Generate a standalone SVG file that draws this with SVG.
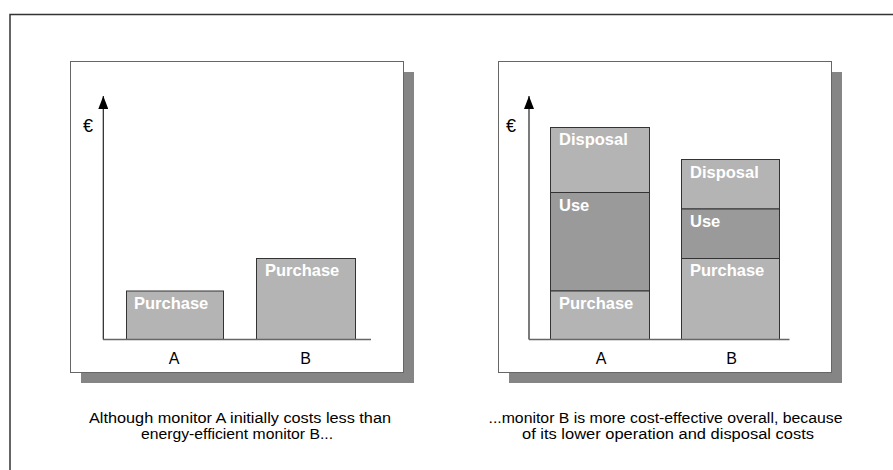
<svg xmlns="http://www.w3.org/2000/svg" width="893" height="470" viewBox="0 0 893 470">
  <defs>
    <marker id="arrow" markerWidth="13" markerHeight="10" refX="13" refY="5" orient="auto" markerUnits="userSpaceOnUse" viewBox="0 0 13 10">
      <path d="M0,0 L13,5 L0,10 Z" fill="#000"/>
    </marker>
  </defs>
  <style>
    .frame { fill: none; stroke: #333; stroke-width: 1.5; }
    .panel { fill: #fff; stroke: #666; stroke-width: 1; }
    .shadow { fill: #858585; }
    .bar { fill: #b4b4b4; stroke: #333; stroke-width: 1; }
    .use { fill: #9a9a9a; stroke: #333; stroke-width: 1; }
    .axis { fill: none; stroke: #222; stroke-width: 1.2; }
    .xaxis { fill: none; stroke: #666; stroke-width: 1.5; }
    .lbl { font-family: "Liberation Sans", Arial, sans-serif; font-weight: bold; font-size: 16.5px; fill: #fff; }
    .cat { font-family: "Liberation Sans", Arial, sans-serif; font-size: 16px; fill: #000; text-anchor: middle; }
    .eur { font-family: "Liberation Sans", Arial, sans-serif; font-size: 18px; fill: #000; }
    .cap { font-family: "Liberation Sans", Arial, sans-serif; font-size: 14px; fill: #000; text-anchor: middle; }
  </style>
  <rect x="0" y="0" width="893" height="470" fill="#fff"/>
  <path class="frame" d="M10,470 L10,14.5 L893,14.5"/>

  <g id="panel-left">
    <rect class="shadow" x="81" y="72" width="333" height="311"/>
    <rect class="panel" x="70.5" y="61.5" width="333" height="311"/>
    <text class="eur" x="83" y="132">€</text>
    <text class="cat" x="174" y="363.5">A</text>
    <text class="cat" x="305.5" y="363.5">B</text>
  </g>
  <g id="panel-right">
    <rect class="shadow" x="509" y="72" width="333" height="311"/>
    <rect class="panel" x="498.5" y="61.5" width="333" height="311"/>
    <text class="eur" x="506" y="132">€</text>
    <text class="cat" x="601" y="363.5">A</text>
    <text class="cat" x="731.5" y="363.5">B</text>
  </g>

  <g id="bar-A-left">
    <rect class="bar" x="126.5" y="291" width="97" height="48.5"/>
    <text class="lbl" x="134" y="308.5">Purchase</text>
  </g>
  <g id="bar-B-left">
    <rect class="bar" x="256.5" y="258.5" width="99" height="81"/>
    <text class="lbl" x="265" y="276">Purchase</text>
  </g>

  <g id="bar-A-right">
    <rect class="bar" x="550.5" y="127.5" width="99" height="65"/>
    <rect class="use" x="550.5" y="192.5" width="99" height="98.5"/>
    <rect class="bar" x="550.5" y="291" width="99" height="48.5"/>
    <text class="lbl" x="559" y="145">Disposal</text>
    <text class="lbl" x="559" y="210.5">Use</text>
    <text class="lbl" x="559" y="308.5">Purchase</text>
  </g>
  <g id="bar-B-right">
    <rect class="bar" x="681.5" y="159.5" width="98" height="49.5"/>
    <rect class="use" x="681.5" y="209" width="98" height="49.5"/>
    <rect class="bar" x="681.5" y="258.5" width="98" height="81"/>
    <text class="lbl" x="690" y="177.5">Disposal</text>
    <text class="lbl" x="690" y="226.5">Use</text>
    <text class="lbl" x="690" y="276">Purchase</text>
  </g>

  <g id="connectors">
    <path class="axis" d="M103.3,339.5 L103.3,96" marker-end="url(#arrow)"/>
    <path class="xaxis" d="M103,339.5 L371,339.5"/>
    <path class="axis" d="M529,339.5 L529,96" marker-end="url(#arrow)"/>
    <path class="xaxis" d="M529,339.5 L789.5,339.5"/>
  </g>

  <g id="caption-left">
    <text class="cap" x="240" y="423" textLength="302" lengthAdjust="spacingAndGlyphs">Although monitor A initially costs less than</text>
    <text class="cap" x="237" y="439" textLength="192" lengthAdjust="spacingAndGlyphs">energy-efficient monitor B...</text>
  </g>
  <g id="caption-right">
    <text class="cap" x="665.5" y="423" textLength="354" lengthAdjust="spacingAndGlyphs">...monitor B is more cost-effective overall, because</text>
    <text class="cap" x="668" y="439" textLength="292" lengthAdjust="spacingAndGlyphs">of its lower operation and disposal costs</text>
  </g>
</svg>
